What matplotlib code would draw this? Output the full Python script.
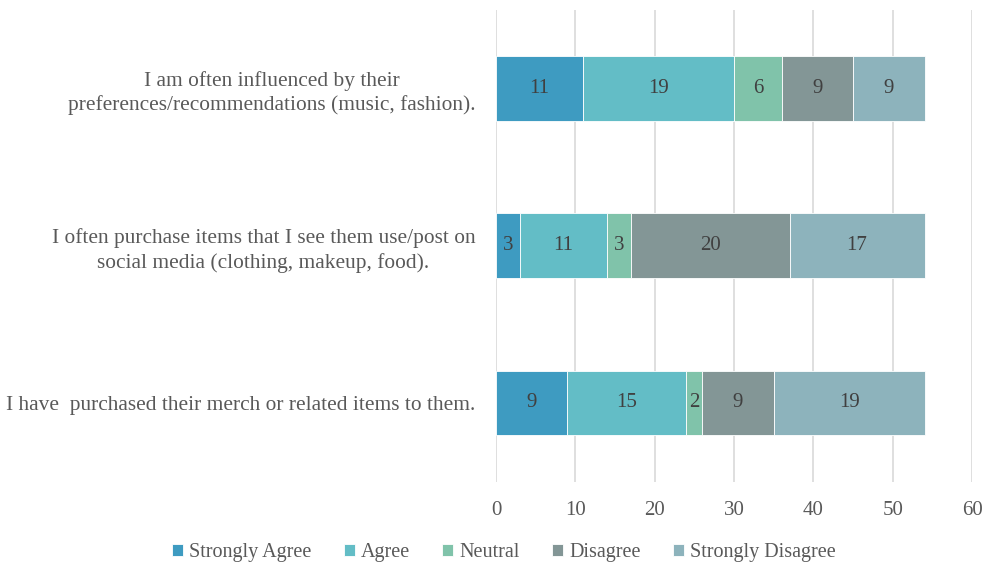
import matplotlib.pyplot as plt

plt.rcParams['font.family'] = ['Liberation Serif', 'DejaVu Serif']

statements = [
    "I have  purchased their merch or related items to them.",
    "I often purchase items that I see them use/post on\nsocial media (clothing, makeup, food).",
    "I am often influenced by their\npreferences/recommendations (music, fashion).",
]
responses = ["Strongly Agree", "Agree", "Neutral", "Disagree", "Strongly Disagree"]
strongly_agree = [9, 3, 11]
agree = [15, 11, 19]
neutral = [2, 3, 6]
disagree = [9, 20, 9]
strongly_disagree = [19, 17, 9]
colors = ["#3e9bc1", "#63bdc6", "#80c3aa", "#839696", "#8db3bc"]

series = [strongly_agree, agree, neutral, disagree, strongly_disagree]

fig = plt.figure(figsize=(9.88, 5.64), dpi=100)
ax = fig.add_axes([0.502, 0.146, 0.482, 0.837])

left = [0] * len(statements)
for name, vals, col in zip(responses, series, colors):
    bars = ax.barh(range(len(statements)), vals, left=left, height=0.41,
                   color=col, label=name, edgecolor='white', linewidth=0.6)
    ax.bar_label(bars, labels=[str(v) for v in vals], label_type='center',
                 color='#404040', fontsize=15)
    left = [l + v for l, v in zip(left, vals)]

ax.set_xlim(0, 60)
ax.set_ylim(-0.5, 2.5)
ax.set_xticks(range(0, 61, 10))
ax.set_yticks(range(len(statements)))
ax.set_yticklabels(statements, fontsize=15.4, color='#595959',
                   multialignment='center', linespacing=1.3)
ax.tick_params(axis='x', labelsize=15, labelcolor='#595959', length=0, pad=14)
ax.tick_params(axis='y', length=0, pad=15)
ax.grid(axis='x', color='#d9d9d9', linewidth=1.2)
ax.set_axisbelow(True)
for s in ax.spines.values():
    s.set_visible(False)

# legend row along the bottom edge
fig.legend(loc='lower center', ncol=5, bbox_to_anchor=(0.51, -0.029),
           frameon=False, fontsize=14.5, handlelength=0.55, handleheight=0.55,
           handletextpad=0.3, columnspacing=1.6, labelcolor='#595959')

fig.savefig('out.png', dpi=100)
